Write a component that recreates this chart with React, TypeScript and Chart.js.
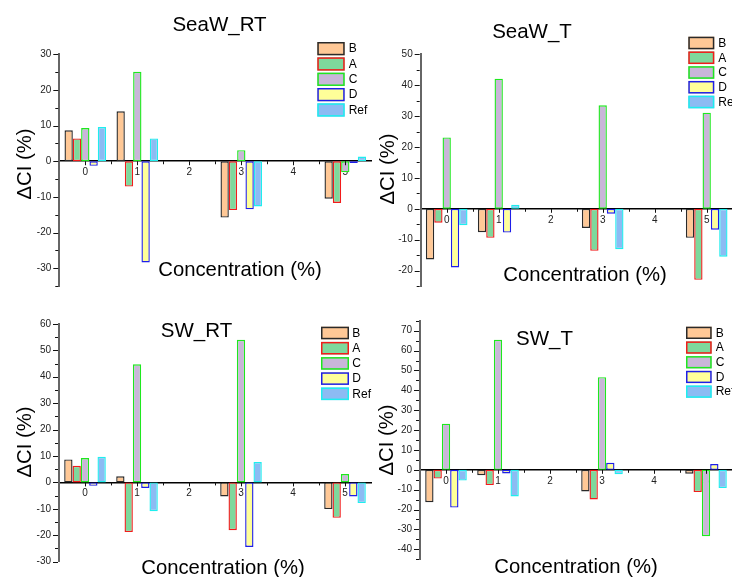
import React, { useEffect, useRef } from 'react';
import { Chart, registerables } from 'chart.js';

Chart.register(...registerables);

// ---------- data ----------
const seriesNames = ['B', 'A', 'C', 'D', 'Ref'];
const seriesFill = ['#FFC896', '#7ED89C', '#C9B6D9', '#FFFF99', '#8CBBF3'];
const seriesBorder = ['#2a2a2a', '#F21B1B', '#1EE81E', '#1E1EE8', '#1EEEEE'];
const concentrations = [0, 1, 3, 5];
const xTickValues = [0, 1, 2, 3, 4, 5];

// SeaW_RT
const seaWRT_B = [8.7, 14.0, -15.8, -10.5];
const seaWRT_A = [6.4, -7.1, -13.7, -11.7];
const seaWRT_C = [9.3, 25.1, 3.1, -3.1];
const seaWRT_D = [-1.3, -28.4, -13.5, -0.5];
const seaWRT_Ref = [9.6, 6.4, -12.7, 1.3];
const seaWRTYTicks = [-30, -20, -10, 0, 10, 20, 30];

// SeaW_T
const seaWT_B = [-16.4, -7.6, -6.2, -9.4];
const seaWT_A = [-4.5, -9.4, -13.6, -23.0];
const seaWT_C = [23.1, 42.1, 33.5, 31.1];
const seaWT_D = [-19.0, -7.7, -1.6, -6.8];
const seaWT_Ref = [-5.3, 1.3, -13.1, -15.5];
const seaWTYTicks = [-20, -10, 0, 10, 20, 30, 40, 50];

// SW_RT
const swRT_B = [8.7, 2.3, -5.3, -10.1];
const swRT_A = [6.3, -18.8, -18.1, -13.4];
const swRT_C = [9.2, 44.7, 54.0, 3.2];
const swRT_D = [-1.3, -2.1, -24.4, -5.3];
const swRT_Ref = [9.7, -10.9, 7.7, -7.8];
const swRTYTicks = [-30, -20, -10, 0, 10, 20, 30, 40, 50, 60];

// SW_T
const swT_B = [-16.3, -2.7, -10.9, -2.0];
const swT_A = [-4.4, -7.7, -14.9, -11.2];
const swT_C = [23.2, 65.4, 46.6, -33.4];
const swT_D = [-19.0, -1.8, 3.5, 2.9];
const swT_Ref = [-5.4, -13.4, -2.2, -9.2];
const swTYTicks = [-40, -30, -20, -10, 0, 10, 20, 30, 40, 50, 60, 70];

const xTitle = 'Concentration (%)';
const yTitle = 'ΔCI (%)';
const FONT = "'Liberation Sans', Arial, sans-serif";

// ---------- layout ----------
type Panel = {
  title: string;
  values: number[][];
  yTicks: number[];
  yMin: number;
  yMax: number;
  box: { x: number; y: number; w: number; h: number };
  area: { l: number; t: number; r: number; b: number };
  yAxisW: number;
  titlePos: [number, number];
  xTitlePos: [number, number];
  yTitlePos: [number, number];
  legend: { x: number; y: number; step: number; h: number; w: number; textX: number };
};

const panels: Panel[] = [
  {
    title: 'SeaW_RT',
    values: [seaWRT_B, seaWRT_A, seaWRT_C, seaWRT_D, seaWRT_Ref],
    yTicks: seaWRTYTicks, yMin: -35, yMax: 30,
    box: { x: 0, y: 0, w: 380, h: 300 },
    area: { l: 59.3, t: 54.3, r: 371.3, b: 292.6 },
    yAxisW: 50,
    titlePos: [219.5, 25], xTitlePos: [240, 270], yTitlePos: [25, 164],
    legend: { x: 317.3, y: 42, step: 15.33, h: 13.3, w: 27.4, textX: 348.7 },
  },
  {
    title: 'SeaW_T',
    values: [seaWT_B, seaWT_A, seaWT_C, seaWT_D, seaWT_Ref],
    yTicks: seaWTYTicks, yMin: -25, yMax: 50,
    box: { x: 370, y: 0, w: 372, h: 300 },
    area: { l: 420.7, t: 54.3, r: 732.7, b: 292.9 },
    yAxisW: 40,
    titlePos: [532, 32], xTitlePos: [585, 275], yTitlePos: [388, 169],
    legend: { x: 688.3, y: 36.7, step: 14.75, h: 12.6, w: 26, textX: 718.3 },
  },
  {
    title: 'SW_RT',
    values: [swRT_B, swRT_A, swRT_C, swRT_D, swRT_Ref],
    yTicks: swRTYTicks, yMin: -30, yMax: 60,
    box: { x: 0, y: 300, w: 380, h: 277 },
    area: { l: 59, t: 323.9, r: 371, b: 561.7 },
    yAxisW: 50,
    titlePos: [196.5, 331], xTitlePos: [223, 568], yTitlePos: [25, 442],
    legend: { x: 321, y: 326.7, step: 15.2, h: 12.6, w: 28, textX: 352.3 },
  },
  {
    title: 'SW_T',
    values: [swT_B, swT_A, swT_C, swT_D, swT_Ref],
    yTicks: swTYTicks, yMin: -45, yMax: 75,
    box: { x: 370, y: 300, w: 372, h: 277 },
    area: { l: 420, t: 320.8, r: 732, b: 559.2 },
    yAxisW: 40,
    titlePos: [544.5, 339], xTitlePos: [576, 567], yTitlePos: [387, 440],
    legend: { x: 686, y: 326.7, step: 14.7, h: 12.3, w: 25.7, textX: 715.7 },
  },
];

// ---------- decoration plugin (titles, legend, tick marks) ----------
const decorPlugin = {
  id: 'decor',
  afterDraw(chart: any, _args: any, opts: any) {
    const p: Panel = opts.panel;
    if (!p) return;
    const ctx: CanvasRenderingContext2D = chart.ctx;
    const ox = p.box.x;
    const oy = p.box.y;
    const xs = chart.scales.x;
    const ys = chart.scales.y;
    const area = chart.chartArea;
    ctx.save();

    // x tick marks (major at integers, minor at halves)
    const y0 = ys.getPixelForValue(0);
    ctx.strokeStyle = '#111';
    ctx.lineWidth = 1;
    for (let v = 0; v <= 5.5001; v += 0.5) {
      const px = Math.round(xs.getPixelForValue(v)) + 0.5;
      if (px > area.right) continue;
      const len = Number.isInteger(v) ? 4 : 3;
      ctx.beginPath();
      ctx.moveTo(px, y0);
      ctx.lineTo(px, y0 + len);
      ctx.stroke();
    }
    // y tick marks (major every 10, minor every 5)
    for (let v = p.yMin; v <= p.yMax + 0.001; v += 5) {
      const py = Math.round(ys.getPixelForValue(v)) + 0.5;
      const major = v % 10 === 0;
      const len = major ? 5 : 3;
      ctx.beginPath();
      ctx.moveTo(area.left - 1, py);
      ctx.lineTo(area.left - 1 - len, py);
      ctx.stroke();
    }

    ctx.fillStyle = '#000';
    ctx.textAlign = 'center';
    ctx.textBaseline = 'middle';
    // title
    ctx.font = `20.5px ${FONT}`;
    ctx.fillText(p.title, p.titlePos[0] - ox, p.titlePos[1] - oy);
    // x title
    ctx.font = `20.3px ${FONT}`;
    ctx.fillText(xTitle, p.xTitlePos[0] - ox, p.xTitlePos[1] - oy);
    // y title
    ctx.save();
    ctx.translate(p.yTitlePos[0] - ox, p.yTitlePos[1] - oy);
    ctx.rotate(-Math.PI / 2);
    ctx.fillText(yTitle, 0, 0);
    ctx.restore();

    // legend
    const L = p.legend;
    ctx.font = `12px ${FONT}`;
    ctx.textAlign = 'left';
    chart.data.datasets.forEach((ds: any, i: number) => {
      const bx = L.x - ox;
      const by = L.y - oy + i * L.step;
      ctx.fillStyle = ds.backgroundColor;
      ctx.fillRect(bx, by, L.w, L.h);
      ctx.strokeStyle = ds.borderColor;
      ctx.lineWidth = 1.5;
      ctx.strokeRect(bx + 0.75, by + 0.75, L.w - 1.5, L.h - 1.5);
      ctx.fillStyle = '#000';
      ctx.fillText(ds.label, L.textX - ox, by + L.h / 2 + 0.5);
    });
    ctx.restore();
  },
};

function PanelChart({ p }: { p: Panel }) {
  const ref = useRef<HTMLCanvasElement>(null);
  useEffect(() => {
    if (!ref.current) return;
    const tickFont = { family: FONT, size: 10 };
    const chart = new Chart(ref.current, {
      type: 'bar',
      data: {
        datasets: seriesNames.map((name, si) => ({
          label: name,
          data: concentrations.map((x, i) => ({ x, y: p.values[si][i] })),
          backgroundColor: seriesFill[si],
          borderColor: seriesBorder[si],
          borderWidth: 1.4,
          borderSkipped: false,
          categoryPercentage: 0.8,
          barPercentage: 1.0,
        })),
      },
      options: {
        animation: false,
        responsive: false,
        maintainAspectRatio: false,
        devicePixelRatio: 1,
        layout: {
          padding: {
            left: p.area.l - p.box.x - p.yAxisW,
            right: p.box.x + p.box.w - p.area.r,
            top: p.area.t - p.box.y,
            bottom: p.box.y + p.box.h - p.area.b,
          },
        },
        plugins: {
          legend: { display: false },
          tooltip: { enabled: false },
          title: { display: false },
          decor: { panel: p },
        } as any,
        scales: {
          x: {
            type: 'linear',
            min: -0.5,
            max: 5.5,
            offset: false,
            position: { y: 0 } as any,
            grid: { display: false, drawTicks: false, offset: false },
            border: { display: true, color: '#000', width: 1.6 },
            afterBuildTicks: (s: any) => {
              s.ticks = xTickValues.map((v) => ({ value: v }));
            },
            ticks: { font: tickFont, color: '#222', padding: 5, maxRotation: 0, autoSkip: false },
          },
          y: {
            type: 'linear',
            min: p.yMin,
            max: p.yMax,
            grid: { display: false, drawTicks: false },
            border: { display: true, color: '#666', width: 2 },
            afterBuildTicks: (s: any) => {
              s.ticks = p.yTicks.map((v) => ({ value: v }));
            },
            afterFit: (s: any) => {
              s.width = p.yAxisW;
            },
            ticks: { font: tickFont, color: '#222', padding: 8, autoSkip: false },
          },
        } as any,
      },
      plugins: [decorPlugin as any],
    });
    return () => chart.destroy();
  }, [p]);
  return (
    <div style={{ position: 'absolute', left: p.box.x, top: p.box.y, width: p.box.w, height: p.box.h }}>
      <canvas ref={ref} width={p.box.w} height={p.box.h} style={{ width: p.box.w, height: p.box.h, display: 'block' }} />
    </div>
  );
}

export default function App() {
  return (
    <div
      style={{
        position: 'fixed',
        left: 0,
        top: 0,
        width: 732,
        height: 577,
        overflow: 'hidden',
        background: '#fff',
      }}
    >
      {panels.map((p) => (
        <PanelChart key={p.title} p={p} />
      ))}
    </div>
  );
}
